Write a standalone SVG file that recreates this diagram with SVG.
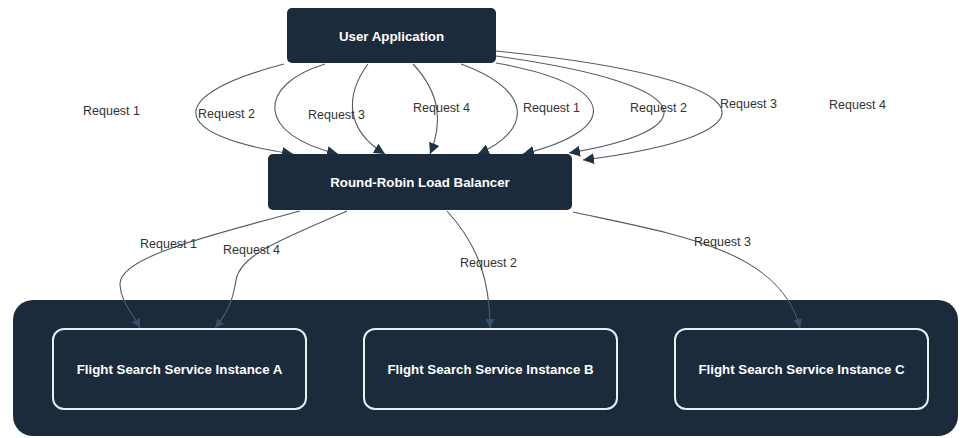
<svg xmlns="http://www.w3.org/2000/svg" width="960" height="438" viewBox="0 0 960 438">
<defs>
<style>
.node{fill:#1b2b3c;}
.inst{fill:#1b2b3c;stroke:#e9eef2;stroke-width:2;}
.ntxt{font-family:"Liberation Sans",Arial,sans-serif;font-size:13.3px;font-weight:bold;fill:#ffffff;text-anchor:middle;}
.lbl{font-family:"Liberation Sans",Arial,sans-serif;font-size:12.5px;fill:#333333;}
.edge{fill:none;stroke:#555b61;stroke-width:1.1;}
.top{marker-end:url(#ah);}
.low{marker-end:url(#ah2);}
</style>
<marker id="ah" viewBox="0 0 10 10" refX="10" refY="5" markerWidth="11" markerHeight="11" markerUnits="userSpaceOnUse" orient="auto">
<path d="M0,0 L10,5 L0,10 z" fill="#1f3347"/>
</marker>
<marker id="ah2" viewBox="0 0 10 10" refX="10" refY="5" markerWidth="9" markerHeight="9" markerUnits="userSpaceOnUse" orient="auto">
<path d="M0,0 L10,5 L0,10 z" fill="#34506b"/>
</marker>
</defs>
<rect width="960" height="438" fill="#ffffff"/>

<g id="services-container">
<rect x="13" y="300" width="945" height="136" rx="20" ry="20" class="node"/>
</g>

<g id="connectors">
<path class="edge top" d="M284,64 C165,95 165,135 293,154"/>
<path class="edge top" d="M325,64 C256,85 256,135 338,154"/>
<path class="edge top" d="M368,64 C345,95 345,130 385,154"/>
<path class="edge top" d="M413,64 C442,95 442,125 430,154"/>
<path class="edge top" d="M461,64 C533,90 533,130 478,154"/>
<path class="edge top" d="M496,63 C621,85 621,130 523,154"/>
<path class="edge top" d="M496,56 C706,85 706,130 569,153"/>
<path class="edge top" d="M496,51 C781,80 781,135 583,160"/>
<path class="edge low" d="M300,211 C200,238 118,258 120,285 C121,302 132,312 140,328"/>
<path class="edge low" d="M347,211 C280,240 240,255 236,280 C233,300 228,312 215,328"/>
<path class="edge low" d="M447,211 C478,245 490,280 490,328"/>
<path class="edge low" d="M573,212 C680,235 780,250 800,328"/>
</g>

<g id="edge-labels">
<text class="lbl" x="83" y="115">Request 1</text>
<text class="lbl" x="198" y="118">Request 2</text>
<text class="lbl" x="308" y="119">Request 3</text>
<text class="lbl" x="413" y="112">Request 4</text>
<text class="lbl" x="523" y="112">Request 1</text>
<text class="lbl" x="630" y="112">Request 2</text>
<text class="lbl" x="720" y="108">Request 3</text>
<text class="lbl" x="829" y="109">Request 4</text>
<text class="lbl" x="140" y="248">Request 1</text>
<text class="lbl" x="223" y="254">Request 4</text>
<text class="lbl" x="460" y="267">Request 2</text>
<text class="lbl" x="694" y="246">Request 3</text>
</g>

<g id="user-application">
<rect x="287" y="8" width="209" height="55" rx="5" ry="5" class="node"/>
<text class="ntxt" x="391.5" y="41">User Application</text>
</g>

<g id="load-balancer">
<rect x="268" y="154" width="304" height="56" rx="5" ry="5" class="node"/>
<text class="ntxt" x="420" y="187">Round-Robin Load Balancer</text>
</g>

<g id="instance-a">
<rect x="53" y="329" width="253" height="80" rx="11" ry="11" class="inst"/>
<text class="ntxt" x="179.5" y="374">Flight Search Service Instance A</text>
</g>

<g id="instance-b">
<rect x="364" y="329" width="253" height="80" rx="11" ry="11" class="inst"/>
<text class="ntxt" x="490.5" y="374">Flight Search Service Instance B</text>
</g>

<g id="instance-c">
<rect x="675" y="329" width="253" height="80" rx="11" ry="11" class="inst"/>
<text class="ntxt" x="801.5" y="374">Flight Search Service Instance C</text>
</g>
</svg>
